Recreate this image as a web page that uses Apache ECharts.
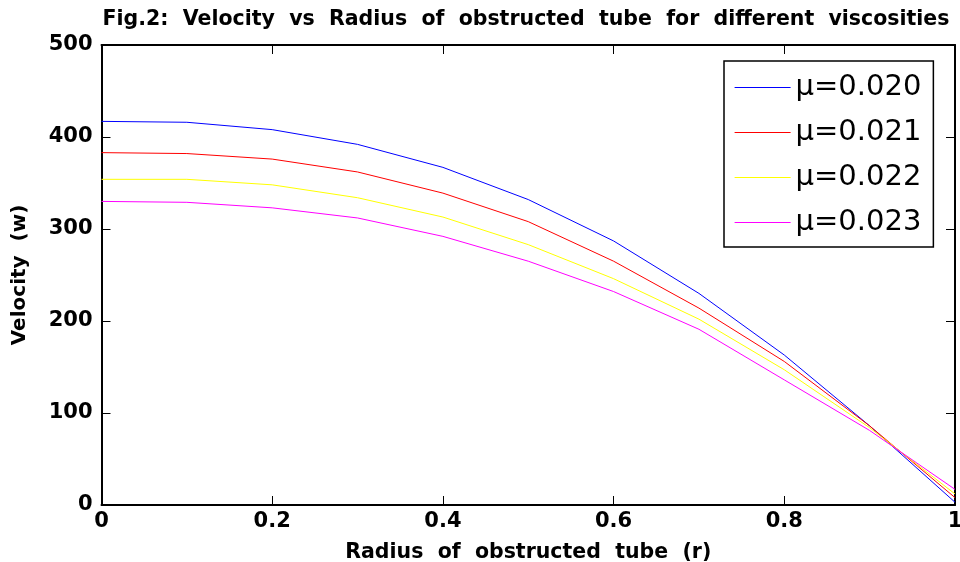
<!DOCTYPE html>
<html>
<head>
<meta charset="utf-8">
<script src="https://cdn.jsdelivr.net/npm/echarts@6/dist/echarts.min.js"></script>
<style>html,body{margin:0;padding:0;background:#fff;}#c{width:960px;height:562px;}</style>
</head>
<body>
<div id="c"></div>
<script>
const radius = [0, 0.1, 0.2, 0.3, 0.4, 0.5, 0.6, 0.7, 0.8, 0.9, 1.0];
const mu020 = [417, 416, 408, 392, 367, 332, 287, 230, 163, 86, 3];
const mu021 = [383, 382, 376, 362, 339, 308, 265, 214, 156, 86, 8];
const mu022 = [354, 354, 348, 334, 313, 283, 246, 202, 147, 84, 12];
const mu023 = [330, 329, 323, 312, 292, 265, 232, 191, 136, 81, 17];
const seriesNames = ['\u03bc=0.020', '\u03bc=0.021', '\u03bc=0.022', '\u03bc=0.023'];
const seriesColors = ['#0000ff', '#ff0000', '#ffff00', '#ff00ff'];
const seriesData = [mu020, mu021, mu022, mu023];
const xTicks = [0, 0.2, 0.4, 0.6, 0.8, 1];
const yTicks = [0, 100, 200, 300, 400, 500];

const FONT = 'DejaVu Sans';
const chart = echarts.init(document.getElementById('c'), null, {renderer: 'canvas'});
const axisBase = {
  axisLine: {show: true, onZero: false, lineStyle: {color: '#000', width: 2}},
  axisTick: {show: true, inside: true, length: 9, lineStyle: {color: '#000', width: 1}},
  splitLine: {show: false}
};
chart.setOption({
  animation: false,
  backgroundColor: '#fff',
  title: {
    text: 'Fig.2:  Velocity  vs  Radius  of  obstructed  tube  for  different  viscosities',
    left: 521, textAlign: 'center', top: 4,
    textStyle: {fontFamily: FONT, fontWeight: 'bold', fontSize: 20.5, color: '#000'}
  },
  legend: {
    orient: 'vertical', left: 724, top: 61,
    backgroundColor: '#fff', borderColor: '#000', borderWidth: 1.5,
    padding: [4, 12, 2, 10], itemGap: 0,
    itemWidth: 56, itemHeight: 13,
    itemStyle: {opacity: 0},
    textStyle: {fontFamily: FONT, fontSize: 29, color: '#000', lineHeight: 45},
    data: seriesNames.map((n, i) => ({name: n, lineStyle: {color: seriesColors[i], width: 1.2}}))
  },
  grid: {left: 101.5, right: 5, top: 45, bottom: 57, containLabel: false, outerBoundsMode: 'none'},
  xAxis: [
    Object.assign({}, axisBase, {
      type: 'value', min: 0, max: 1, interval: 0.2, position: 'bottom',
      name: 'Radius  of  obstructed  tube  (r)', nameLocation: 'middle', nameGap: 37,
      nameTextStyle: {fontFamily: FONT, fontWeight: 'bold', fontSize: 20.5, color: '#000'},
      axisLabel: {fontFamily: FONT, fontWeight: 'bold', fontSize: 21, color: '#000', margin: 6,
        formatter: v => String(Math.round(v * 10) / 10)}
    }),
    Object.assign({}, axisBase, {
      type: 'value', min: 0, max: 1, interval: 0.2, position: 'top',
      axisLabel: {show: false}
    })
  ],
  yAxis: [
    Object.assign({}, axisBase, {
      type: 'value', min: 0, max: 500, interval: 100, position: 'left',
      name: 'Velocity  (w)', nameLocation: 'middle', nameGap: 72, nameRotate: 90,
      nameTextStyle: {fontFamily: FONT, fontWeight: 'bold', fontSize: 20, color: '#000'},
      axisLabel: {fontFamily: FONT, fontWeight: 'bold', fontSize: 21, color: '#000', margin: 9}
    }),
    Object.assign({}, axisBase, {
      type: 'value', min: 0, max: 500, interval: 100, position: 'right',
      axisLabel: {show: false}
    })
  ],
  series: seriesData.map((d, i) => ({
    name: seriesNames[i], type: 'line', symbol: 'none', smooth: false,
    xAxisIndex: 0, yAxisIndex: 0,
    data: radius.map((r, j) => [r, d[j]]),
    lineStyle: {color: seriesColors[i], width: 1},
    itemStyle: {color: seriesColors[i]}
  }))
});
</script>
</body>
</html>
